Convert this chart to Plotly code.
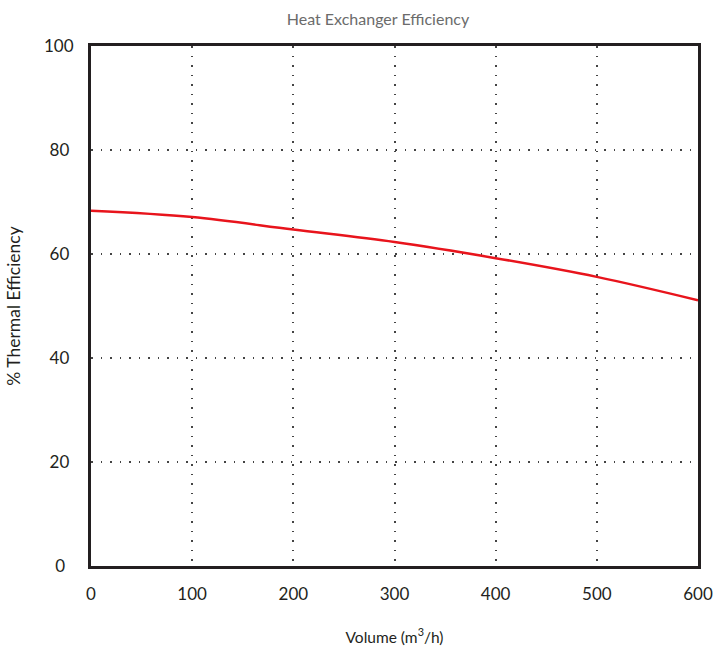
import plotly.graph_objects as go

volume = [0, 100, 200, 300, 400, 500, 600]
efficiency = [68.3, 67.1, 64.7, 62.3, 59.2, 55.6, 51.1]
x_ticks = [0, 100, 200, 300, 400, 500, 600]
y_ticks = [0, 20, 40, 60, 80, 100]

# pad shorter y labels so they look centred like the reference
pad = "\u2005"
y_ticktext = [str(v) + pad * (3 - len(str(v))) for v in y_ticks]

fig = go.Figure()
fig.add_trace(go.Scatter(x=volume, y=efficiency, mode="lines",
                         line=dict(color="#e8141c", width=2.5, shape="spline"),
                         showlegend=False, hoverinfo="skip"))

font_family = "Lato, 'Open Sans', sans-serif"
fig.update_layout(
    width=720, height=650,
    margin=dict(l=91, r=22, t=46, b=84, autoexpand=False),
    paper_bgcolor="white", plot_bgcolor="white",
    title=dict(text="Heat Exchanger Efficiency", x=0.525, xanchor="center",
               y=1 - 19 / 650, yref="container", yanchor="middle",
               font=dict(family=font_family, size=16, color="#6b6b6b")),
    font=dict(family=font_family, color="#231f20"),
)
fig.update_xaxes(range=[0, 600], tickvals=x_ticks, ticktext=[str(v) for v in x_ticks],
                 showgrid=True, gridcolor="#444444", griddash="1.5px,8px", gridwidth=1.5,
                 showline=True, linecolor="#231f20", linewidth=3, mirror=True,
                 zeroline=False, ticks="", ticklabelstandoff=11, automargin=False,
                 tickfont=dict(size=17, color="#231f20"),
                 title=dict(text="Volume (m<sup>3</sup>/h)", standoff=29,
                            font=dict(size=15.5, color="#231f20")))
fig.update_yaxes(range=[0, 100], tickvals=y_ticks, ticktext=y_ticktext,
                 showgrid=True, gridcolor="#444444", griddash="1.5px,8px", gridwidth=1.5,
                 showline=True, linecolor="#231f20", linewidth=3, mirror=True,
                 zeroline=False, ticks="", ticklabelstandoff=11, automargin=False,
                 tickfont=dict(size=17, color="#231f20"),
                 title=dict(text="% Thermal Efficiency", standoff=19,
                            font=dict(size=17.5, color="#231f20")))

fig.write_html("out.html", config={"displayModeBar": False},
               post_script="document.body.style.margin='0';document.body.style.overflow='hidden';")
